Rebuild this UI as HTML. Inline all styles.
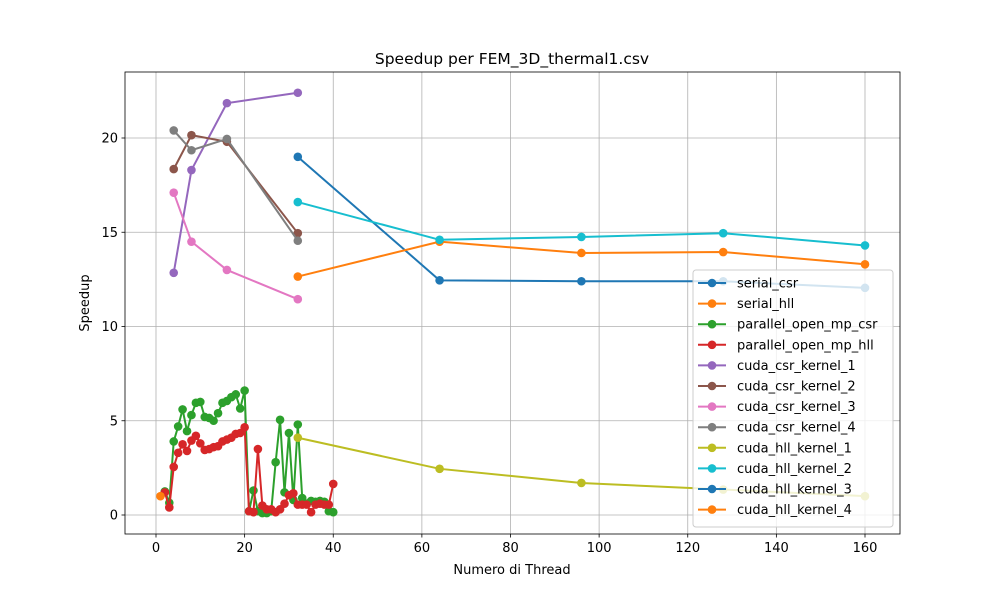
<!DOCTYPE html>
<html><head><meta charset="utf-8"><style>
body{margin:0;background:#fff;font-family:"Liberation Sans","DejaVu Sans",sans-serif}
svg text{font-family:"DejaVu Sans","Liberation Sans",sans-serif}
</style></head><body>
<svg id="c" width="1000" height="600" xmlns="http://www.w3.org/2000/svg"></svg>
<script>
const seriesNames=["serial_csr","serial_hll","parallel_open_mp_csr","parallel_open_mp_hll","cuda_csr_kernel_1","cuda_csr_kernel_2","cuda_csr_kernel_3","cuda_csr_kernel_4","cuda_hll_kernel_1","cuda_hll_kernel_2","cuda_hll_kernel_3","cuda_hll_kernel_4"];
const colors=["#1f77b4","#ff7f0e","#2ca02c","#d62728","#9467bd","#8c564b","#e377c2","#7f7f7f","#bcbd22","#17becf","#1f77b4","#ff7f0e"];
const ompX=[2,3,4,5,6,7,8,9,10,11,12,13,14,15,16,17,18,19,20,21,22,23,24,25,26,27,28,29,30,31,32,33,34,35,36,37,38,39,40];
const ompCsr=[1.25,0.65,3.9,4.7,5.6,4.45,5.3,5.95,6.0,5.2,5.15,5.0,5.4,5.95,6.05,6.25,6.4,5.65,6.6,0.2,1.3,0.2,0.1,0.1,0.2,2.8,5.05,1.2,4.35,0.8,4.8,0.9,0.6,0.75,0.7,0.75,0.7,0.2,0.15];
const ompHll=[1.2,0.4,2.55,3.3,3.75,3.4,3.95,4.2,3.8,3.45,3.5,3.6,3.65,3.9,4.0,4.1,4.3,4.35,4.65,0.2,0.15,3.5,0.5,0.3,0.3,0.15,0.3,0.6,1.05,1.15,0.55,0.55,0.55,0.15,0.55,0.6,0.55,0.55,1.65];
const cudaX=[4,8,16,32];
const csrK1=[12.85,18.3,21.85,22.4];
const csrK2=[18.35,20.15,19.8,14.95];
const csrK3=[17.1,14.5,13.0,11.45];
const csrK4=[20.4,19.35,19.95,14.55];
const bigX=[32,64,96,128,160];
const serialCsr=[19.0,12.45,12.4,12.4,12.05];
const serialHll=[12.65,14.5,13.9,13.95,13.3];
const hllK1=[4.1,2.45,1.7,1.35,1.0];
const hllK2=[16.6,14.6,14.75,14.95,14.3];
const k4X=[1];
const hllK4=[1.0];
const xTicks=[0,20,40,60,80,100,120,140,160];
const yTicks=[0,5,10,15,20];
const data=[[bigX,serialCsr],[bigX,serialHll],[ompX,ompCsr],[ompX,ompHll],[cudaX,csrK1],[cudaX,csrK2],[cudaX,csrK3],[cudaX,csrK4],[bigX,hllK1],[bigX,hllK2],[[],[]],[k4X,hllK4]];
const L=125,R=900,T=72,B=534;
const sx=v=>156+v*(865-156)/160;
const sy=v=>515-v*(515-138)/20;
const svg=document.getElementById('c');const NS="http://www.w3.org/2000/svg";
function el(t,a,p){const e=document.createElementNS(NS,t);for(const k in a)e.setAttribute(k,a[k]);(p||svg).appendChild(e);return e;}
el('rect',{x:0,y:0,width:1000,height:600,fill:'#fff'});
const grid=el('g',{});

xTicks.forEach(t=>{const x=sx(t);el('line',{x1:x,x2:x,y1:T,y2:B,stroke:'#b0b0b0','stroke-width':0.8},grid);
el('line',{x1:x,x2:x,y1:B,y2:B+3.5,stroke:'#000','stroke-width':0.8});
const tx=el('text',{x:x,y:B+18,'font-size':13,'text-anchor':'middle'});tx.textContent=t;
});
yTicks.forEach(t=>{const y=sy(t);el('line',{x1:L,x2:R,y1:y,y2:y,stroke:'#b0b0b0','stroke-width':0.8},grid);
el('line',{x1:L-3.5,x2:L,y1:y,y2:y,stroke:'#000','stroke-width':0.8});
const tx=el('text',{x:L-7,y:y+4.5,'font-size':13,'text-anchor':'end'});tx.textContent=t;
});
data.forEach((d,i)=>{const g=el('g',{});

const xs=d[0],ys=d[1];if(!xs.length)return;
el('polyline',{points:xs.map((x,j)=>sx(x)+','+sy(ys[j])).join(' '),fill:'none',stroke:colors[i],'stroke-width':2}, g);
xs.forEach((x,j)=>{const c=el('circle',{cx:sx(x),cy:sy(ys[j]),r:4.3,fill:colors[i]},g);
});});
el('rect',{x:L,y:T,width:R-L,height:B-T,fill:'none',stroke:'#000','stroke-width':0.8});
let t=el('text',{x:512,y:64,'font-size':15.5,'text-anchor':'middle'});t.textContent='Speedup per FEM_3D_thermal1.csv';

t=el('text',{x:512,y:574,'font-size':13,'text-anchor':'middle'});t.textContent='Numero di Thread';

t=el('text',{x:89,y:303,'font-size':13,'text-anchor':'middle',transform:'rotate(-90 89 303)'});t.textContent='Speedup';

const lg=el('g',{});

el('rect',{x:693,y:270,width:200,height:257,rx:3,fill:'#fff','fill-opacity':0.8,stroke:'#ccc'},lg);
seriesNames.forEach((n,i)=>{const y=283+i*20.6;const e=el('g',{},lg);

el('line',{x1:698,x2:726,y1:y,y2:y,stroke:colors[i],'stroke-width':2},e);
el('circle',{cx:712,cy:y,r:4.3,fill:colors[i]},e);
const tx=el('text',{x:737,y:y+4.5,'font-size':13},e);tx.textContent=n;});
</script>
</body></html>
